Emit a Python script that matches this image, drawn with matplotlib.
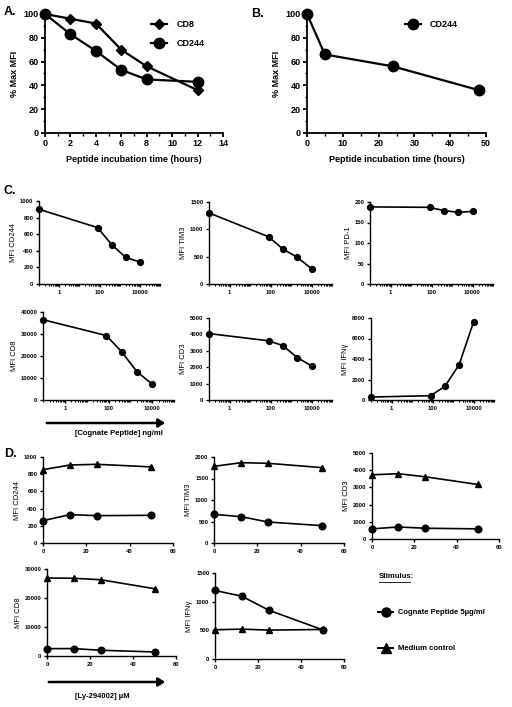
import numpy as np
import matplotlib
matplotlib.use("Agg")
import matplotlib.pyplot as plt
from matplotlib.lines import Line2D
from matplotlib.patches import FancyArrowPatch
from matplotlib.ticker import MultipleLocator, LogLocator, NullFormatter, FixedLocator

plt.rcParams['font.family'] = ['Liberation Sans', 'DejaVu Sans']
plt.rcParams['font.weight'] = 'bold'

W, H = 512, 707

# ---------------- Panel A ----------------
a_time = [0, 2, 4, 6, 8, 12]
a_cd8 = [100, 96, 92, 70, 56, 36]
a_cd244 = [100, 83, 69, 53, 45, 43]

# ---------------- Panel B ----------------
b_time = [0, 5, 24, 48]
b_cd244 = [100, 66, 56, 36]

# ---------------- Panel C (peptide ng/ml, 0 drawn at axis start) ----------------
c_dose = [0.1, 80, 400, 2000, 10000]
c_cd244 = [900, 680, 475, 320, 265]
c_tim3 = [1300, 865, 640, 490, 280]
c_pd1 = [188, 187, 179, 175, 177]
c_cd8 = [36500, 29300, 21900, 12900, 7200]
c_cd3 = [4050, 3610, 3320, 2590, 2080]
c_ifng = [290, 420, 1320, 3450, 7600]

# ---------------- Panel D (Ly-294002 uM) ----------------
d_dose = [0, 12.5, 25, 50]
d_cd244_pep = [260, 330, 318, 322]
d_cd244_med = [853, 907, 915, 885]
d_tim3_pep = [667, 612, 488, 403]
d_tim3_med = [1783, 1868, 1853, 1752]
d_cd3_pep = [590, 700, 625, 590]
d_cd3_med = [3735, 3794, 3620, 3170]
d_cd8_pep = [2550, 2550, 1970, 1400]
d_cd8_med = [26900, 26800, 26300, 23200]
d_ifng_pep = [1195, 1095, 851, 510]
d_ifng_med = [510, 521, 504, 515]

fig = plt.figure(figsize=(W / 100, H / 100), dpi=100)


def add_ax(l, r, t, b):
    return fig.add_axes([l / W, 1 - b / H, (r - l) / W, (b - t) / H])


def style(ax, fs=5, lw=1.0):
    for s in ['top', 'right']:
        ax.spines[s].set_visible(False)
    for s in ['left', 'bottom']:
        ax.spines[s].set_linewidth(lw)
    ax.tick_params(direction='out', width=lw, length=3, labelsize=fs, pad=1.5)
    ax.tick_params(which='minor', direction='out', width=lw * 0.8, length=1.8)
    for lab in ax.get_xticklabels() + ax.get_yticklabels():
        lab.set_fontweight('bold')


# ---- A ----
ax = add_ax(45, 223, 14, 133)
ax.plot(a_time, a_cd8, '-D', color='black', lw=1.6, ms=5.5, clip_on=False, label='CD8')
ax.plot(a_time, a_cd244, '-o', color='black', lw=1.6, ms=7.5, clip_on=False, label='CD244')
ax.set_xlim(0, 14)
ax.set_ylim(0, 100)
ax.xaxis.set_major_locator(MultipleLocator(2))
ax.xaxis.set_minor_locator(MultipleLocator(1))
ax.yaxis.set_major_locator(MultipleLocator(20))
ax.yaxis.set_minor_locator(MultipleLocator(10))
ax.set_xlabel('Peptide incubation time (hours)', fontsize=6.5, fontweight='bold', labelpad=5)
ax.set_ylabel('% Max MFI', fontsize=6.5, fontweight='bold', labelpad=3)
style(ax, fs=6.5, lw=1.3)
ax.legend(loc='upper left', bbox_to_anchor=(0.55, 1.02), frameon=False, fontsize=6.5,
          handlelength=1.8, labelspacing=1.1, handletextpad=1.0)

# ---- B ----
ax = add_ax(307, 486, 14, 133)
ax.plot(b_time, b_cd244, '-o', color='black', lw=1.6, ms=7.5, clip_on=False, label='CD244')
ax.set_xlim(0, 50)
ax.set_ylim(0, 100)
ax.xaxis.set_major_locator(MultipleLocator(10))
ax.xaxis.set_minor_locator(MultipleLocator(5))
ax.yaxis.set_major_locator(MultipleLocator(20))
ax.yaxis.set_minor_locator(MultipleLocator(10))
ax.set_xlabel('Peptide incubation time (hours)', fontsize=6.5, fontweight='bold', labelpad=5)
ax.set_ylabel('% Max MFI', fontsize=6.5, fontweight='bold', labelpad=3)
style(ax, fs=6.5, lw=1.3)
ax.legend(loc='upper left', bbox_to_anchor=(0.5, 1.02), frameon=False, fontsize=6.5,
          handlelength=1.8, handletextpad=1.0)


# ---- C ----
def c_panel(box, y, ymax, ystep, label):
    ax = add_ax(*box)
    ax.plot(c_dose, y, '-o', color='black', lw=1.2, ms=4.2, clip_on=False)
    ax.set_xscale('log')
    ax.set_xlim(0.1, 1e5)
    ax.set_ylim(0, ymax)
    ax.xaxis.set_major_locator(FixedLocator([1, 100, 10000]))
    ax.xaxis.set_minor_locator(LogLocator(base=10, subs=np.arange(1, 10), numticks=20))
    ax.xaxis.set_minor_formatter(NullFormatter())
    ax.set_xticklabels(['1', '100', '10000'])
    ax.yaxis.set_major_locator(MultipleLocator(ystep))
    ax.set_ylabel(label, fontsize=5.5, fontweight='normal', labelpad=2)
    style(ax, fs=4.2, lw=1.0)
    ax.tick_params(which='major', length=2.5)
    ax.tick_params(which='minor', length=1.3)
    return ax


c_panel((39, 160, 201, 284), c_cd244, 1000, 200, 'MFI CD244')
c_panel((209, 332, 202, 284), c_tim3, 1500, 500, 'MFI TIM3')
c_panel((370, 493, 202, 284), c_pd1, 200, 50, 'MFI PD-1')
c_panel((43, 174, 312, 400), c_cd8, 40000, 10000, 'MFI CD8')
c_panel((209, 332, 318, 400), c_cd3, 5000, 1000, 'MFI CD3')
c_panel((371, 494, 318, 400), c_ifng, 8000, 2000, 'MFI IFNγ')


# ---- D ----
def d_panel(box, pep, med, ymax, ystep, label):
    ax = add_ax(*box)
    ax.plot(d_dose, med, '-^', color='black', lw=1.2, ms=4.8, clip_on=False)
    ax.plot(d_dose, pep, '-o', color='black', lw=1.2, ms=4.8, clip_on=False)
    ax.set_xlim(0, 60)
    ax.set_ylim(0, ymax)
    ax.xaxis.set_major_locator(MultipleLocator(20))
    ax.yaxis.set_major_locator(MultipleLocator(ystep))
    ax.set_ylabel(label, fontsize=5.5, fontweight='normal', labelpad=2)
    style(ax, fs=4.2, lw=1.0)
    ax.tick_params(which='major', length=2.5)
    return ax


d_panel((43, 173, 457, 543), d_cd244_pep, d_cd244_med, 1000, 200, 'MFI CD244')
d_panel((214, 344, 457, 543), d_tim3_pep, d_tim3_med, 2000, 500, 'MFI TIM3')
d_panel((372, 499, 453, 539), d_cd3_pep, d_cd3_med, 5000, 1000, 'MFI CD3')
d_panel((47, 176, 569, 656), d_cd8_pep, d_cd8_med, 30000, 10000, 'MFI CD8')
d_panel((215, 344, 573, 659), d_ifng_pep, d_ifng_med, 1500, 500, 'MFI IFNγ')

# ---- panel letters ----
for txt, x, y in [('A.', 4, 12), ('B.', 251, 14), ('C.', 4, 191), ('D.', 4, 454)]:
    fig.text(x / W, 1 - y / H, txt, fontsize=9, fontweight='bold', va='center', ha='left')

# ---- arrows and axis captions ----
for x0, x1, y in [(44, 168, 423), (46, 168, 682)]:
    fig.add_artist(FancyArrowPatch(
        (x0 / W, 1 - y / H), (x1 / W, 1 - y / H), transform=fig.transFigure,
        arrowstyle='-|>,head_length=4,head_width=2.5', lw=1.8, color='black'))
fig.text(119 / W, 1 - 433 / H, '[Cognate Peptide] ng/ml', fontsize=5.5, ha='center', va='center')
fig.text(102 / W, 1 - 697 / H, '[Ly-294002] µM', fontsize=5.5, ha='center', va='center')

# ---- D legend ----
fig.text(379 / W, 1 - 577 / H, 'Stimulus:', fontsize=5.5, ha='left', va='center')
fig.add_artist(Line2D([379 / W, 410 / W], [1 - 582 / H, 1 - 582 / H], color='black', lw=0.6))
for y, mk, lab in [(612, 'o', 'Cognate Peptide 5µg/ml'), (648, '^', 'Medium control')]:
    fig.add_artist(Line2D([378 / W, 393 / W], [1 - y / H, 1 - y / H], color='black', lw=1.4))
    fig.add_artist(Line2D([385.5 / W], [1 - y / H], color='black', marker=mk, ms=6.5))
    fig.text(398 / W, 1 - y / H, lab, fontsize=5.5, ha='left', va='center')

fig.savefig('out.png', dpi=100)
